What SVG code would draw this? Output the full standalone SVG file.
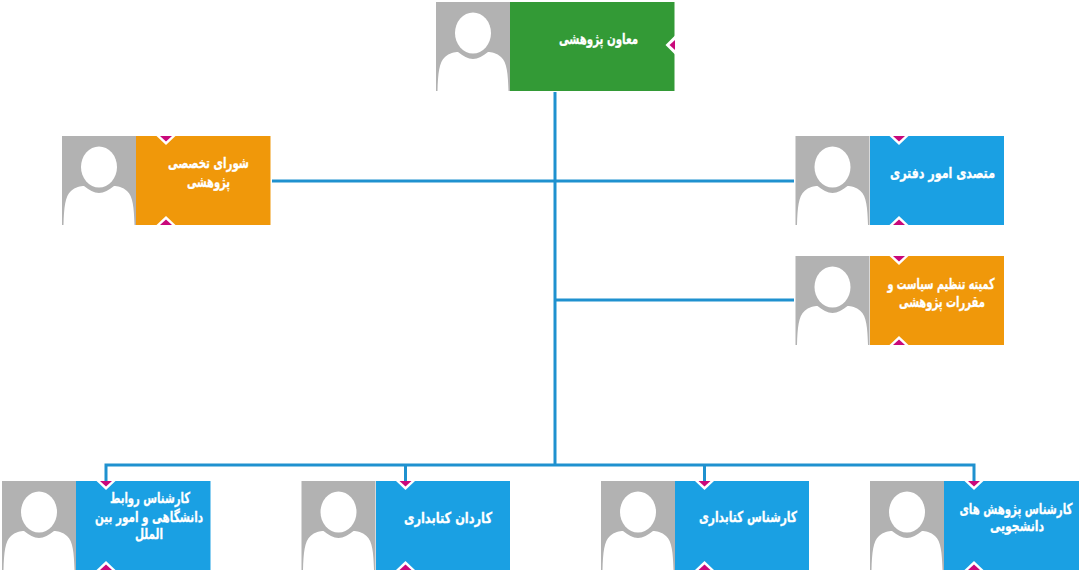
<svg xmlns="http://www.w3.org/2000/svg" width="1084" height="572" viewBox="0 0 1084 572">
<style>
.lbl{font-family:"DejaVu Sans","Noto Sans",sans-serif;font-weight:700;font-size:15px;fill:#fff;stroke:#fff;stroke-width:.3;text-anchor:middle;direction:rtl}
.conn{fill:none;stroke:#1f91cf;stroke-width:3}
.blue{fill:#1aa0e3}.orange{fill:#f0980a}.green{fill:#339a36}
.dw{fill:#fff}.dm{fill:#c9087b}
</style>
<defs>
<g id="photo">
<rect x="0" y="0" width="74" height="89" fill="#b2b2b2"/>
<path d="M1.500 89C2 72 3 60 9 55C13 51 19 50 22 50C27 54 32 57 37 57C42 57 47 54 52 50C55 50 61 51 65 55C71 60 72 72 72.500 89Z" fill="#fff"/>
<ellipse cx="37" cy="31" rx="18" ry="20.500" fill="#fff"/>
</g>
<g id="tabTop"><path d="M-9.500 0L0 9L9.500 0Z" class="dw"/><path d="M-6 0L0 5.500L6 0Z" class="dm"/></g>
<g id="tabBot"><path d="M-9.500 0L0 -9L9.500 0Z" class="dw"/><path d="M-6 0L0 -5.500L6 0Z" class="dm"/></g>
</defs>
<g id="connectors">
<path class="conn" d="M555 92V465"/>
<path class="conn" d="M272 181H794"/>
<path class="conn" d="M555 300H794"/>
<path class="conn" d="M106 481V465H974V481"/>
<path class="conn" d="M405.500 465V481"/>
<path class="conn" d="M704.500 465V481"/>
</g>
<g id="node-top">
<use href="#photo" x="436" y="2"/>
<rect class="green" x="510" y="2" width="164.500" height="89"/>
<path d="M675 35.500L665.500 45L675 54.500Z" class="dw"/><path d="M675 40L669.500 45L675 50Z" class="dm"/>
<text class="lbl" x="598.500" y="44" textLength="79" lengthAdjust="spacingAndGlyphs">معاون پژوهشی</text>
</g>
<g id="node-left">
<use href="#photo" x="62" y="136"/>
<rect class="orange" x="136" y="136" width="134.500" height="89"/>
<use href="#tabTop" x="166" y="136"/><use href="#tabBot" x="166" y="225"/>
<text class="lbl" x="208.500" y="168" textLength="81" lengthAdjust="spacingAndGlyphs">شورای تخصصی</text>
<text class="lbl" x="208.500" y="187" textLength="43" lengthAdjust="spacingAndGlyphs">پژوهشی</text>
</g>
<g id="node-right1">
<use href="#photo" x="795.500" y="136"/>
<rect class="blue" x="870" y="136" width="134" height="89"/>
<use href="#tabTop" x="899" y="136"/><use href="#tabBot" x="899" y="225"/>
<text class="lbl" x="942.500" y="178" textLength="105" lengthAdjust="spacingAndGlyphs">متصدی امور دفتری</text>
</g>
<g id="node-right2">
<use href="#photo" x="795.500" y="256"/>
<rect class="orange" x="870" y="256" width="134" height="89"/>
<use href="#tabTop" x="899" y="256"/><use href="#tabBot" x="899" y="345"/>
<text class="lbl" x="941" y="289" textLength="107" lengthAdjust="spacingAndGlyphs">کمیته تنظیم سیاست و</text>
<text class="lbl" x="942" y="307" textLength="86" lengthAdjust="spacingAndGlyphs">مقررات پژوهشی</text>
</g>
<g id="node-b1">
<use href="#photo" x="2" y="481"/>
<rect class="blue" x="76" y="481" width="134.500" height="89"/>
<use href="#tabTop" x="106" y="481"/><use href="#tabBot" x="106" y="570"/>
<text class="lbl" x="150" y="503" textLength="80" lengthAdjust="spacingAndGlyphs">کارشناس روابط</text>
<text class="lbl" x="149" y="522" textLength="108" lengthAdjust="spacingAndGlyphs">دانشگاهی و امور بین</text>
<text class="lbl" x="149" y="539" textLength="28" lengthAdjust="spacingAndGlyphs">الملل</text>
</g>
<g id="node-b2">
<use href="#photo" x="301.500" y="481"/>
<rect class="blue" x="376" y="481" width="134" height="89"/>
<use href="#tabTop" x="405.500" y="481"/><use href="#tabBot" x="405.500" y="570"/>
<text class="lbl" x="448" y="523" textLength="88" lengthAdjust="spacingAndGlyphs">کاردان کتابداری</text>
</g>
<g id="node-b3">
<use href="#photo" x="601" y="481"/>
<rect class="blue" x="675" y="481" width="134" height="89"/>
<use href="#tabTop" x="704.500" y="481"/><use href="#tabBot" x="704.500" y="570"/>
<text class="lbl" x="748" y="522" textLength="98" lengthAdjust="spacingAndGlyphs">کارشناس کتابداری</text>
</g>
<g id="node-b4">
<use href="#photo" x="870" y="481"/>
<rect class="blue" x="944" y="481" width="135" height="89"/>
<use href="#tabTop" x="974" y="481"/><use href="#tabBot" x="974" y="570"/>
<text class="lbl" transform="translate(1016 514) scale(.68 1)">کارشناس پژوهش های</text>
<text class="lbl" x="1017" y="531" textLength="54" lengthAdjust="spacingAndGlyphs">دانشجویی</text>
</g>
</svg>
